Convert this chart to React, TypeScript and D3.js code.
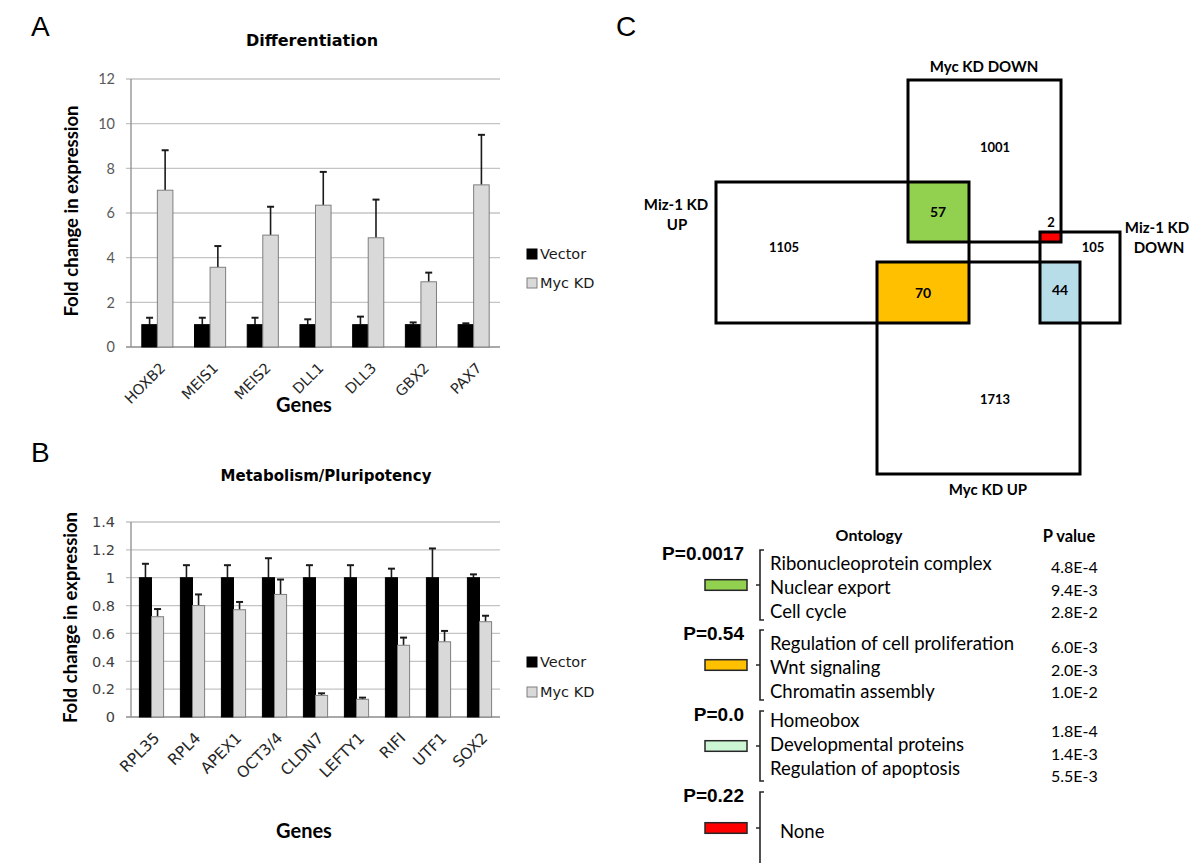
import React from "react";
import * as d3 from "d3";

// ---- Panel A: differentiation genes ----
const genesA = ["HOXB2", "MEIS1", "MEIS2", "DLL1", "DLL3", "GBX2", "PAX7"];
const vectorA = [1, 1, 1, 1, 1, 1, 1];
const vectorErrA = [0.31, 0.31, 0.31, 0.24, 0.36, 0.1, 0.06];
const mycA = [7.02, 3.57, 5.01, 6.35, 4.89, 2.92, 7.26];
const mycErrA = [1.79, 0.95, 1.27, 1.49, 1.71, 0.41, 2.24];
const ticksA = [0, 2, 4, 6, 8, 10, 12];

// ---- Panel B: metabolism / pluripotency genes ----
const genesB = ["RPL35", "RPL4", "APEX1", "OCT3/4", "CLDN7", "LEFTY1", "RIFI", "UTF1", "SOX2"];
const vectorB = [1, 1, 1, 1, 1, 1, 1, 1, 1];
const vectorErrB = [0.1, 0.09, 0.09, 0.14, 0.09, 0.09, 0.065, 0.21, 0.024];
const mycB = [0.72, 0.8, 0.77, 0.88, 0.155, 0.127, 0.515, 0.54, 0.684];
const mycErrB = [0.055, 0.08, 0.056, 0.107, 0.015, 0.012, 0.055, 0.078, 0.043];
const ticksB = [0, 0.2, 0.4, 0.6, 0.8, 1, 1.2, 1.4];

const seriesNames = ["Vector", "Myc KD"];

// ---- Panel C: overlap counts ----
const vennSets = ["Myc KD DOWN", "Miz-1 KD UP", "Miz-1 KD DOWN", "Myc KD UP"];
const vennCounts = [1001, 1105, 105, 1713];
const overlapNames = ["Myc DOWN / Miz UP", "Myc UP / Miz UP", "Myc UP / Miz DOWN", "Myc DOWN / Miz DOWN"];
const overlapCounts = [57, 70, 44, 2];
const overlapColors = ["#92d050", "#ffc000", "#b7dee8", "#ff0000"];

// ---- Ontology table ----
const groupP = ["P=0.0017", "P=0.54", "P=0.0", "P=0.22"];
const groupColors = ["#92d050", "#ffc000", "#ccf5d4", "#ff0000"];
const groupTerms = [
  ["Ribonucleoprotein complex", "Nuclear export", "Cell cycle"],
  ["Regulation of cell proliferation", "Wnt signaling", "Chromatin assembly"],
  ["Homeobox", "Developmental proteins", "Regulation of apoptosis"],
  ["None"],
];
const groupPvals = [
  ["4.8E-4", "9.4E-3", "2.8E-2"],
  ["6.0E-3", "2.0E-3", "1.0E-2"],
  ["1.8E-4", "1.4E-3", "5.5E-3"],
  [],
];

const XL = "'DejaVu Sans', 'Liberation Sans', Arial, sans-serif";
const CAL = "Lato, 'Open Sans', sans-serif";
const ARIAL = "'Liberation Sans', Arial, sans-serif";

interface BarProps {
  genes: string[];
  vector: number[];
  vectorErr: number[];
  myc: number[];
  mycErr: number[];
  ticks: number[];
  top: number;
  bottom: number;
  title: string;
  titleX: number;
  titleY: number;
  titleSize: number;
  tickFont: string;
  tickSize: number;
  tickColor: string;
  labelSize: number;
  legendY: number[];
  yTitleX: number;
  genesY: number;
}

function BarChart(p: BarProps) {
  const x0 = d3
    .scaleBand<string>()
    .domain(p.genes)
    .range([131, 500])
    .paddingInner(0.41)
    .paddingOuter(0.205);
  const x1 = d3.scaleBand<string>().domain(seriesNames).range([0, x0.bandwidth()]);
  const y = d3
    .scaleLinear()
    .domain([0, d3.max(p.ticks) || 1])
    .range([p.bottom, p.top]);

  const rows = p.genes.map((g, i) => ({
    gene: g,
    bars: [
      { s: "Vector", v: p.vector[i], e: p.vectorErr[i] },
      { s: "Myc KD", v: p.myc[i], e: p.mycErr[i] },
    ],
  }));

  const fmt = (t: number) => String(+t.toFixed(1));

  return (
    <g>
      <text
        x={p.titleX}
        y={p.titleY}
        textAnchor="middle"
        fontFamily={XL}
        fontWeight="bold"
        fontSize={p.titleSize}
        fill="#000"
      >
        {p.title}
      </text>

      {/* gridlines */}
      {p.ticks.map((t) => (
        <g key={t}>
          <line x1={126} x2={500} y1={y(t)} y2={y(t)} stroke={t === 0 ? "#8c8c8c" : "#c4c4c4"} strokeWidth={1.3} />
          <text
            x={115}
            y={y(t)}
            dy="0.36em"
            textAnchor="end"
            fontFamily={p.tickFont}
            fontSize={p.tickSize}
            fill={p.tickColor}
          >
            {fmt(t)}
          </text>
        </g>
      ))}
      <line x1={131} x2={131} y1={p.top} y2={p.bottom} stroke="#8c8c8c" strokeWidth={1.3} />

      {/* bars */}
      {rows.map((r) => (
        <g key={r.gene} transform={`translate(${x0(r.gene)},0)`}>
          {r.bars.map((b) => {
            const bx = x1(b.s) || 0;
            const cx = bx + x1.bandwidth() / 2;
            return (
              <g key={b.s}>
                <line x1={cx} x2={cx} y1={y(b.v)} y2={y(b.v + b.e)} stroke="#1a1a1a" strokeWidth={1.6} />
                <line x1={cx - 3.5} x2={cx + 3.5} y1={y(b.v + b.e)} y2={y(b.v + b.e)} stroke="#1a1a1a" strokeWidth={2} />
                <rect
                  x={bx}
                  y={y(b.v)}
                  width={x1.bandwidth()}
                  height={y(0) - y(b.v)}
                  fill={b.s === "Vector" ? "#000" : "#d9d9d9"}
                  stroke={b.s === "Vector" ? "#000" : "#7f7f7f"}
                  strokeWidth={1}
                />
              </g>
            );
          })}
        </g>
      ))}

      {/* category labels */}
      {p.genes.map((g) => {
        const cx = (x0(g) || 0) + x0.bandwidth() / 2;
        return (
          <text
            key={g}
            transform={`translate(${cx + 9},${p.bottom + 22}) rotate(-45)`}
            textAnchor="end"
            fontFamily={XL}
            fontSize={p.labelSize}
            fill="#262626"
          >
            {g}
          </text>
        );
      })}

      {/* axis titles */}
      <text
        transform={`translate(${p.yTitleX},${(p.top + p.bottom) / 2 - 2}) rotate(-90)`}
        textAnchor="middle"
        fontFamily={CAL}
        fontWeight="bold"
        fontSize={18.5}
        fill="#000"
      >
        Fold change in expression
      </text>
      <text x={304} y={p.genesY} textAnchor="middle" fontFamily={CAL} fontWeight="bold" fontSize={20} fill="#000">
        Genes
      </text>

      {/* legend */}
      {seriesNames.map((s, i) => (
        <g key={s}>
          <rect
            x={527}
            y={p.legendY[i] - 10}
            width={10}
            height={10}
            fill={s === "Vector" ? "#000" : "#d9d9d9"}
            stroke={s === "Vector" ? "#000" : "#7f7f7f"}
          />
          <text x={540} y={p.legendY[i]} fontFamily={XL} fontSize={14.5} fill="#1a1a1a">
            {s}
          </text>
        </g>
      ))}
    </g>
  );
}

// layout edges for the rectangle Venn diagram (pixels)
const vx = {
  mizUpL: 716,
  mycUpL: 877,
  mycDownL: 908,
  mizUpR: 969,
  mizDownL: 1040,
  mycDownR: 1061,
  mycUpR: 1080,
  mizDownR: 1120,
};
const vy = {
  mycDownT: 80,
  mizUpT: 182,
  mizDownT: 232,
  mycDownB: 242,
  mycUpT: 262,
  mizUpB: 323,
  mycUpB: 474,
};

function Venn() {
  const setRects = [
    [vx.mycDownL, vy.mycDownT, vx.mycDownR, vy.mycDownB],
    [vx.mizUpL, vy.mizUpT, vx.mizUpR, vy.mizUpB],
    [vx.mizDownL, vy.mizDownT, vx.mizDownR, vy.mizUpB],
    [vx.mycUpL, vy.mycUpT, vx.mycUpR, vy.mycUpB],
  ];
  const overlapRects = [
    [vx.mycDownL, vy.mizUpT, vx.mizUpR, vy.mycDownB],
    [vx.mycUpL, vy.mycUpT, vx.mizUpR, vy.mizUpB],
    [vx.mizDownL, vy.mycUpT, vx.mycUpR, vy.mizUpB],
    [vx.mizDownL, vy.mizDownT, vx.mycDownR, vy.mycDownB],
  ];
  const countPos = [
    [995, 152],
    [784, 252],
    [1093, 252],
    [995, 404],
  ];
  const overlapPos = [
    [938, 217],
    [923, 298],
    [1060, 295],
    [1051, 227],
  ];
  return (
    <g fontFamily={CAL} fontWeight="bold" fill="#000">
      {overlapRects.map((r, i) => (
        <rect key={overlapNames[i]} x={r[0]} y={r[1]} width={r[2] - r[0]} height={r[3] - r[1]} fill={overlapColors[i]} />
      ))}
      {setRects.map((r, i) => (
        <rect
          key={vennSets[i]}
          x={r[0]}
          y={r[1]}
          width={r[2] - r[0]}
          height={r[3] - r[1]}
          fill="none"
          stroke="#000"
          strokeWidth={3}
        />
      ))}
      {vennCounts.map((c, i) => (
        <text key={c} x={countPos[i][0]} y={countPos[i][1]} textAnchor="middle" fontSize={13}>
          {c}
        </text>
      ))}
      {overlapCounts.map((c, i) => (
        <text key={c} x={overlapPos[i][0]} y={overlapPos[i][1]} textAnchor="middle" fontSize={i === 3 ? 13 : 14}>
          {c}
        </text>
      ))}
      <text x={984} y={72} textAnchor="middle" fontSize={15}>
        {vennSets[0]}
      </text>
      <text x={676} y={210} textAnchor="middle" fontSize={15}>
        Miz-1 KD
      </text>
      <text x={677} y={230} textAnchor="middle" fontSize={15}>
        UP
      </text>
      <text x={1157} y={233} textAnchor="middle" fontSize={15}>
        Miz-1 KD
      </text>
      <text x={1159} y={253} textAnchor="middle" fontSize={15}>
        DOWN
      </text>
      <text x={988} y={495} textAnchor="middle" fontSize={15}>
        {vennSets[3]}
      </text>
    </g>
  );
}

function OntologyTable() {
  const groupTop = [550, 630, 711, 792];
  const groupH = 70;
  const lineY = [0, 24, 47.5];
  return (
    <g>
      <text x={869} y={541} textAnchor="middle" fontFamily={CAL} fontWeight="bold" fontSize={16}>
        Ontology
      </text>
      <text x={1069} y={542} textAnchor="middle" fontFamily={CAL} fontWeight="bold" fontSize={16.5}>
        P value
      </text>
      {groupP.map((label, gi) => {
        const t = groupTop[gi];
        const h = gi === 3 ? 72 : groupH;
        const mid = t + h / 2;
        const textTop = gi === 2 ? t + 16 : t + 20;
        return (
          <g key={label}>
            <text
              x={744}
              y={t + 10}
              textAnchor="end"
              fontFamily={ARIAL}
              fontWeight="bold"
              fontSize={19}
              fill="#000"
            >
              {label}
            </text>
            <rect x={705} y={mid - 5.3} width={42} height={10.6} fill={groupColors[gi]} stroke="#262626" strokeWidth={1.5} />
            <path
              d={`M764,${t}H760V${t + h}H764M760,${mid}H756`}
              fill="none"
              stroke="#262626"
              strokeWidth={1.6}
            />
            {groupTerms[gi].map((term, ti) => (
              <text
                key={term}
                x={gi === 3 ? 780 : 770}
                y={gi === 3 ? mid + 10 : textTop + lineY[ti]}
                fontFamily={CAL}
                fontSize={18.5}
                fill="#000"
              >
                {term}
              </text>
            ))}
            {groupPvals[gi].map((pv, ti) => (
              <text
                key={pv}
                x={1051}
                y={t + 23 + (gi === 2 ? 3 : 0) + ti * 22.5}
                fontFamily={CAL}
                fontSize={16}
                fill="#000"
              >
                {pv}
              </text>
            ))}
          </g>
        );
      })}
    </g>
  );
}

export default function App() {
  return (
    <svg
      width={1200}
      height={863}
      viewBox="0 0 1200 863"
      style={{ position: "absolute", left: 0, top: 0, background: "#fff" }}
    >
      <rect width={1200} height={863} fill="#fff" />
      <g fontFamily={ARIAL} fontSize={28} fill="#000">
        <text x={31} y={36}>A</text>
        <text x={31} y={462}>B</text>
        <text x={616} y={36}>C</text>
      </g>

      <BarChart
        genes={genesA}
        vector={vectorA}
        vectorErr={vectorErrA}
        myc={mycA}
        mycErr={mycErrA}
        ticks={ticksA}
        top={79}
        bottom={347}
        title="Differentiation"
        titleX={312}
        titleY={46}
        titleSize={16}
        tickFont={CAL}
        tickSize={14.5}
        tickColor="#595959"
        labelSize={14.5}
        legendY={[259, 288]}
        yTitleX={78}
        genesY={412}
      />

      <BarChart
        genes={genesB}
        vector={vectorB}
        vectorErr={vectorErrB}
        myc={mycB}
        mycErr={mycErrB}
        ticks={ticksB}
        top={522}
        bottom={717}
        title="Metabolism/Pluripotency"
        titleX={326}
        titleY={481}
        titleSize={15}
        tickFont={XL}
        tickSize={14.5}
        tickColor="#404040"
        labelSize={15.5}
        legendY={[667, 697]}
        yTitleX={77}
        genesY={838}
      />

      <Venn />
      <OntologyTable />
    </svg>
  );
}
